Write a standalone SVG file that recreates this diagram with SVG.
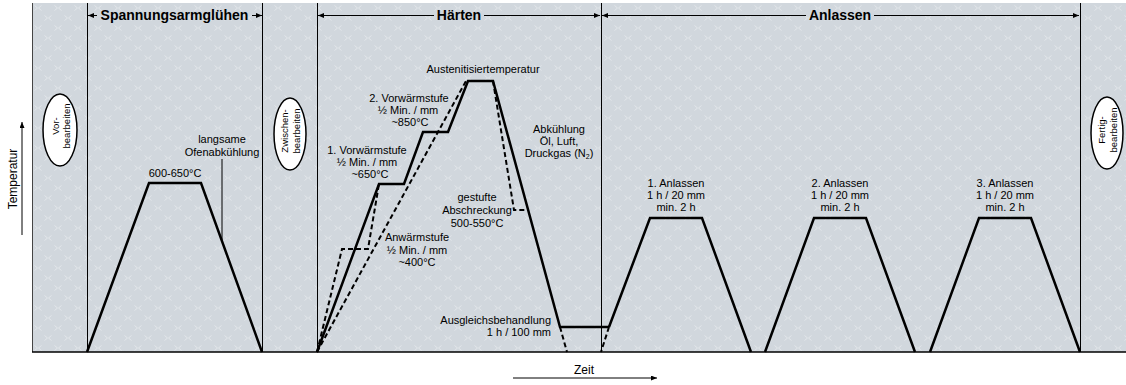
<svg xmlns="http://www.w3.org/2000/svg" width="1126" height="385" viewBox="0 0 1126 385">
<style>
.t{font-family:"Liberation Sans",Arial,sans-serif;font-size:11px;fill:#000;text-anchor:middle}
.h{font-weight:bold;font-size:14px}
.ax{font-size:12px}
.e{font-size:9.5px}
.r{text-anchor:end}
.curve{fill:none;stroke:#000;stroke-width:2.5;stroke-linejoin:miter}
.dash{fill:none;stroke:#000;stroke-width:2;stroke-dasharray:5 3}
.vl{stroke:#000;stroke-width:1;fill:none}
.ell{fill:#fff;stroke:#000;stroke-width:1.5}
</style>
<defs>
<pattern id="pat" patternUnits="userSpaceOnUse" x="33" y="3" width="20" height="20">
<rect width="20" height="20" fill="#d1d7dd"/>
<path d="M1.5,2.5 L4.5,5 L1.5,7.5 M8.5,2.5 L5.5,5 L8.5,7.5 M11.5,12.5 L14.5,15 L11.5,17.5 M18.5,12.5 L15.5,15 L18.5,17.5" fill="none" stroke="#e3e7eb" stroke-width="1"/>
</pattern>
<marker id="ah" viewBox="0 0 6 5" refX="6" refY="2.5" markerWidth="6" markerHeight="5" markerUnits="userSpaceOnUse" orient="auto">
<path d="M0,0 L6,2.5 L0,5 z" fill="#000"/>
</marker>
</defs>

<g id="background">
<rect x="32" y="3" width="1094" height="349" fill="url(#pat)"/>
<line x1="32.5" y1="3" x2="32.5" y2="352" stroke="#444" stroke-width="1"/>
<line x1="32" y1="352" x2="1126" y2="352" stroke="#000" stroke-width="1.5"/>
<path class="vl" d="M87.5,3 V352 M262.5,3 V352 M317.5,3 V352 M601.5,3 V352 M1080.5,3 V352"/>
</g>

<g id="axes">
<line class="vl" x1="22" y1="235" x2="22" y2="122" marker-end="url(#ah)"/>
<text class="t ax" transform="translate(17,179) rotate(-90)">Temperatur</text>
<line class="vl" x1="513" y1="378" x2="657" y2="378" marker-end="url(#ah)"/>
<text class="t ax" x="584" y="374">Zeit</text>
</g>

<g id="connectors">
<line class="vl" x1="97" y1="15.5" x2="88" y2="15.5" marker-end="url(#ah)"/>
<line class="vl" x1="252" y1="15.5" x2="262" y2="15.5" marker-end="url(#ah)"/>
<line class="vl" x1="434" y1="15.5" x2="318" y2="15.5" marker-end="url(#ah)"/>
<line class="vl" x1="484" y1="15.5" x2="600" y2="15.5" marker-end="url(#ah)"/>
<line class="vl" x1="806" y1="15.5" x2="602" y2="15.5" marker-end="url(#ah)"/>
<line class="vl" x1="874" y1="15.5" x2="1079" y2="15.5" marker-end="url(#ah)"/>
</g>

<g id="vorbearbeiten">
<ellipse class="ell" cx="60" cy="130" rx="17" ry="36"/>
<text class="t e" transform="translate(60,126) rotate(-90)"><tspan x="0" y="-1">Vor-</tspan><tspan x="0" y="10">bearbeiten</tspan></text>
</g>

<g id="spannungsarmgluehen">
<text class="t h" x="174.5" y="20">Spannungsarmglühen</text>
<path class="curve" d="M87,352 L149,183 L201,183 L262,352"/>
<text class="t" x="175" y="177">600-650°C</text>
<text class="t" x="222" y="143">langsame</text>
<text class="t" x="222" y="156">Ofenabkühlung</text>
<line class="vl" x1="222" y1="159" x2="222" y2="240"/>
</g>

<g id="zwischenbearbeiten">
<ellipse class="ell" cx="290" cy="134" rx="16" ry="36"/>
<text class="t e" transform="translate(290,131) rotate(-90)"><tspan x="0" y="-2">Zwischen-</tspan><tspan x="0" y="10">bearbeiten</tspan></text>
</g>

<g id="haerten">
<text class="t h" x="459" y="20">Härten</text>
<path class="dash" d="M317,352 L342,249 L368,249 L379,184"/>
<path class="dash" d="M317,352 L466,81"/>
<path class="dash" d="M493,81 L514,210 L527,210"/>
<path class="dash" d="M560,327 L567,352"/>
<path class="curve" d="M317,352 L379,184 L404,184 L423,132 L448,132 L468,81 L493,81 L560,327 L609,327"/>
<text class="t" x="483" y="73">Austenitisiertemperatur</text>
<text class="t" x="409" y="102">2. Vorwärmstufe</text>
<text class="t" x="408" y="114">½ Min. / mm</text>
<text class="t" x="410" y="126">~850°C</text>
<text class="t" x="367" y="154">1. Vorwärmstufe</text>
<text class="t" x="367" y="166">½ Min. / mm</text>
<text class="t" x="370" y="178">~650°C</text>
<text class="t" x="417" y="241">Anwärmstufe</text>
<text class="t" x="417" y="254">½ Min. / mm</text>
<text class="t" x="417" y="266">~400°C</text>
<text class="t" x="477" y="201">gestufte</text>
<text class="t" x="477" y="214">Abschreckung</text>
<text class="t" x="477" y="227">500-550°C</text>
<text class="t" x="559" y="133">Abkühlung</text>
<text class="t" x="559" y="145">Öl, Luft,</text>
<text class="t" x="559" y="157">Druckgas (N<tspan font-size="7" dy="2">2</tspan><tspan dy="-2">)</tspan></text>
<text class="t r" x="551" y="324">Ausgleichsbehandlung</text>
<text class="t r" x="551" y="336">1 h / 100 mm</text>
</g>

<g id="anlassen">
<text class="t h" x="840" y="20">Anlassen</text>
<path class="dash" d="M609,327 L601,352"/>
<path class="curve" d="M609,327 L650,218 L702,218 L751,352"/>
<path class="curve" d="M765,352 L814,218 L866,218 L915,352"/>
<path class="curve" d="M930,352 L979,218 L1031,218 L1080,352"/>
<text class="t" x="676" y="187">1. Anlassen</text>
<text class="t" x="676" y="199">1 h / 20 mm</text>
<text class="t" x="676" y="211">min. 2 h</text>
<text class="t" x="840" y="187">2. Anlassen</text>
<text class="t" x="840" y="199">1 h / 20 mm</text>
<text class="t" x="840" y="211">min. 2 h</text>
<text class="t" x="1005" y="187">3. Anlassen</text>
<text class="t" x="1005" y="199">1 h / 20 mm</text>
<text class="t" x="1005" y="211">min. 2 h</text>
</g>

<g id="fertigbearbeiten">
<ellipse class="ell" cx="1107" cy="133" rx="16" ry="36"/>
<text class="t e" transform="translate(1107,130) rotate(-90)"><tspan x="0" y="-2">Fertig-</tspan><tspan x="0" y="10">bearbeiten</tspan></text>
</g>
</svg>
